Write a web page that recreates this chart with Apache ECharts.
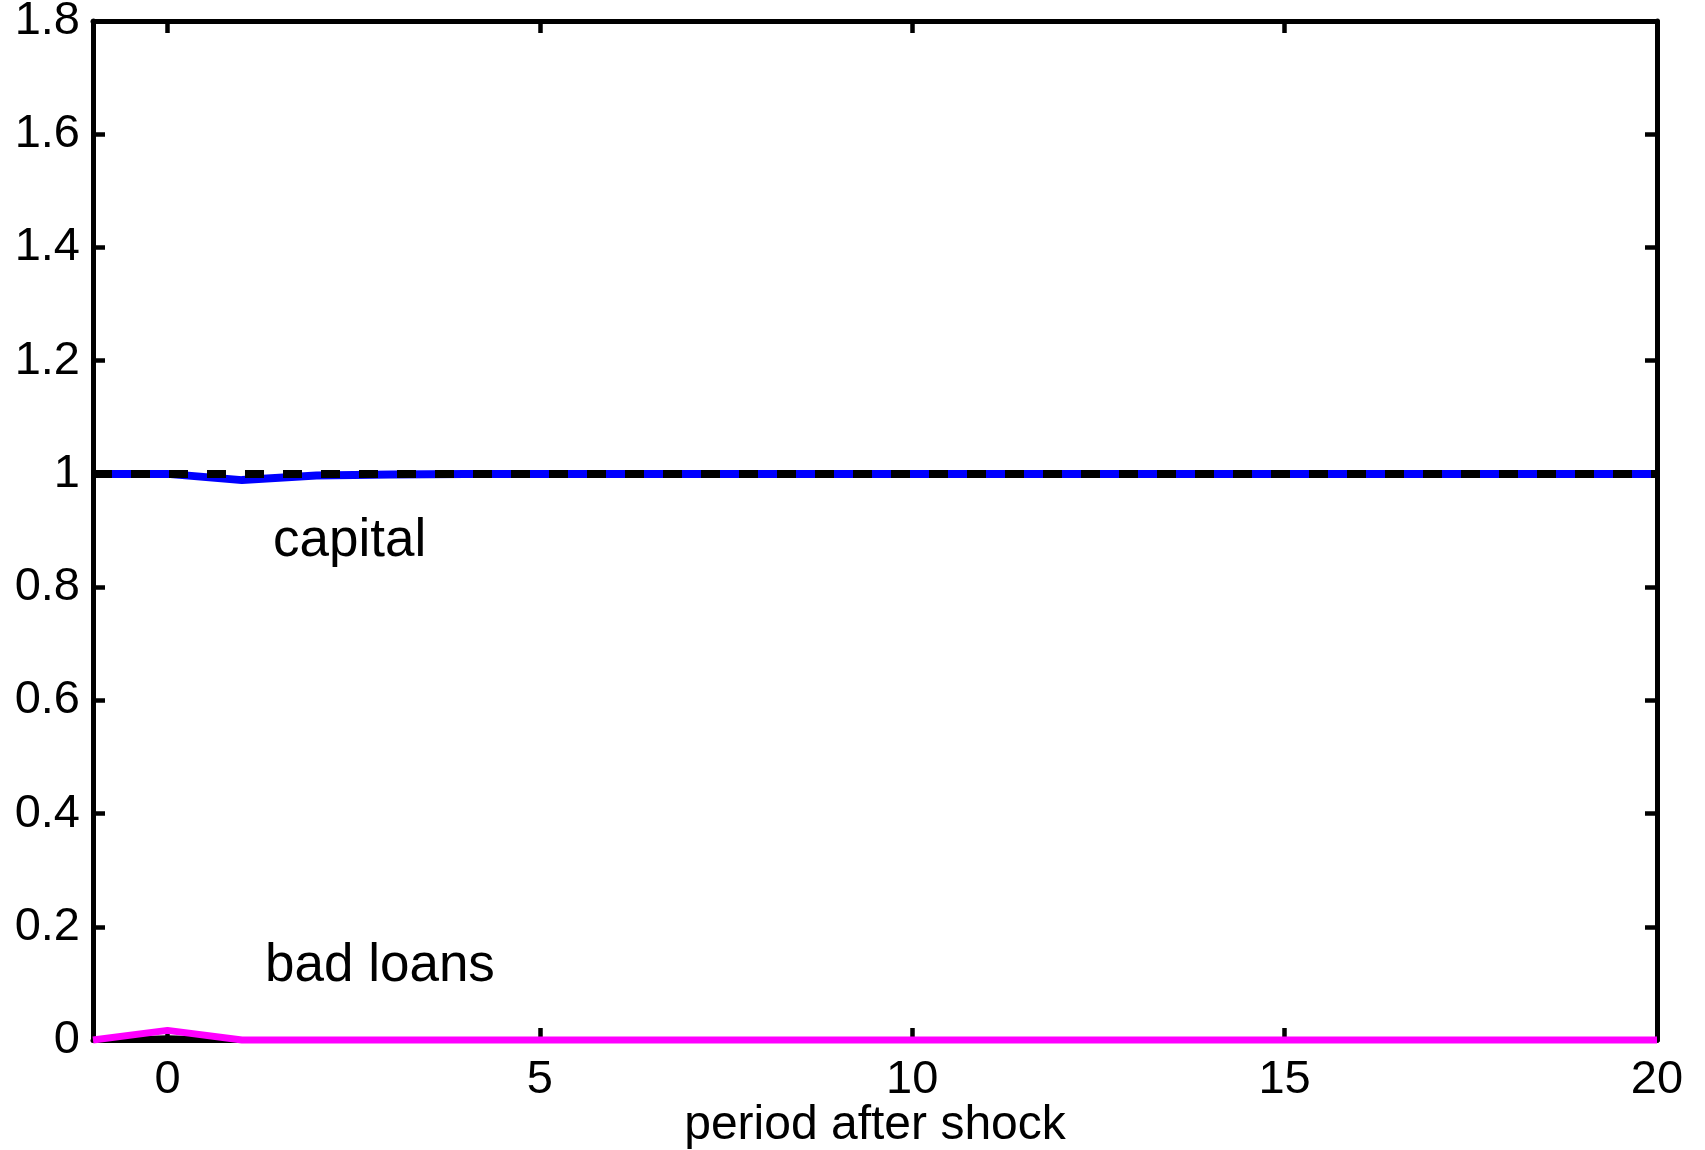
<!DOCTYPE html>
<html>
<head>
<meta charset="utf-8">
<script src="https://cdn.jsdelivr.net/npm/echarts@6/dist/echarts.min.js"></script>
<style>html,body{margin:0;padding:0;background:#fff;}#c{width:1705px;height:1150px;}</style>
</head>
<body>
<div id="c"></div>
<script>
var periods = [-1,0,1,2,3,4,5,6,7,8,9,10,11,12,13,14,15,16,17,18,19,20];
var capital = [1,1,0.989,0.997,0.999,1,1,1,1,1,1,1,1,1,1,1,1,1,1,1,1,1];
var steadyState = [1,1,1,1,1,1,1,1,1,1,1,1,1,1,1,1,1,1,1,1,1,1];
var badLoans = [0,0.017,0,0,0,0,0,0,0,0,0,0,0,0,0,0,0,0,0,0,0,0];
var baseline = [0,0.004,0,0,0,0,0,0,0,0,0,0,0,0,0,0,0,0,0,0,0,0];
var xTicks = [0,5,10,15,20];
var xName = 'period after shock';
var labelCapital = 'capital';
var labelBadLoans = 'bad loans';

function pairs(ys){ return periods.map(function(p,i){ return [p, ys[i]]; }); }

var FONT = '"Liberation Sans", Arial, Helvetica, sans-serif';
var chart = echarts.init(document.getElementById('c'), null, {renderer:'canvas'});
var axisLine = {show:true, onZero:false, lineStyle:{color:'#000', width:5}};
var tick = {show:true, inside:true, length:12, lineStyle:{color:'#000', width:4.5}};

chart.setOption({
  backgroundColor:'#fff',
  animation:false,
  grid:{left:93, right:48, top:21, bottom:110, containLabel:false, outerBoundsMode:'none'},
  xAxis:[
    {type:'value', position:'bottom', min:-1, max:20,
     axisLine:axisLine,
     axisTick:Object.assign({customValues:xTicks}, tick),
     axisLabel:{customValues:xTicks, color:'#000', fontSize:47, fontFamily:FONT, margin:17},
     splitLine:{show:false},
     name:xName, nameLocation:'middle', nameGap:62, nameMoveOverlap:false,
     nameTextStyle:{color:'#000', fontSize:48, fontFamily:FONT}},
    {type:'value', position:'top', min:-1, max:20,
     axisLine:axisLine,
     axisTick:Object.assign({customValues:xTicks}, tick),
     axisLabel:{show:false},
     splitLine:{show:false}}
  ],
  yAxis:[
    {type:'value', position:'left', min:0, max:1.8, interval:0.2,
     axisLine:axisLine, axisTick:tick,
     axisLabel:{color:'#000', fontSize:47, fontFamily:FONT, margin:13},
     splitLine:{show:false}},
    {type:'value', position:'right', min:0, max:1.8, interval:0.2,
     axisLine:axisLine, axisTick:tick,
     axisLabel:{show:false},
     splitLine:{show:false}}
  ],
  series:[
    {name:'capital', type:'line', data:pairs(capital), showSymbol:false, clip:false,
     lineStyle:{color:'#0000ff', width:8}, z:3},
    {name:'steady state', type:'line', data:pairs(steadyState), showSymbol:false, clip:false,
     lineStyle:{color:'#000', width:8, type:[19,19], cap:'butt'}, z:4},
    {name:'baseline', type:'line', data:pairs(baseline), showSymbol:false, clip:false,
     lineStyle:{color:'#000', width:5}, z:3},
    {name:'bad loans', type:'line', data:pairs(badLoans), showSymbol:false, clip:false,
     lineStyle:{color:'#ff00ff', width:7}, z:4}
  ],
  graphic:[
    {type:'text', left:273, top:515, style:{text:labelCapital, fill:'#000', font:'53px ' + FONT}},
    {type:'text', left:265, top:940, style:{text:labelBadLoans, fill:'#000', font:'53px ' + FONT}}
  ]
});
</script>
</body>
</html>
